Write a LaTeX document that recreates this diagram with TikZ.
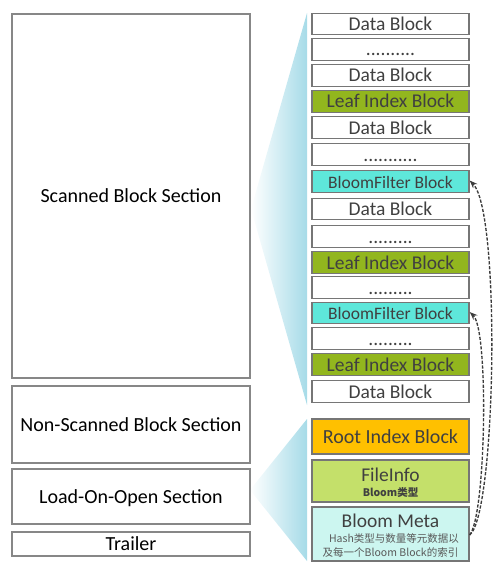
\documentclass[tikz,border=0pt]{standalone}
\usepackage{fontspec}
\setmainfont{Carlito}
\newfontfamily\cjk{Noto Sans CJK SC}
\usetikzlibrary{arrows.meta}
\definecolor{fanblue}{RGB}{166,219,232}
\definecolor{lgray}{RGB}{135,135,135}
\definecolor{rgray}{RGB}{118,118,118}
\definecolor{txtgray}{RGB}{64,64,64}
\definecolor{subgray}{RGB}{89,89,89}
\definecolor{leafgreen}{RGB}{146,182,30}
\definecolor{bfcyan}{RGB}{94,231,218}
\definecolor{rootorange}{RGB}{255,192,0}
\definecolor{fileinfogreen}{RGB}{196,224,106}
\definecolor{metacyan}{RGB}{204,246,240}
\definecolor{arrowgray}{RGB}{60,60,60}
\begin{document}
\begin{tikzpicture}[x=1pt,y=-1pt,
  lbox/.style={draw=lgray,line width=1.1pt,fill=white,inner sep=0pt,
    minimum width=238pt,text height=13.4pt,text depth=0pt,
    font=\fontsize{20}{24}\selectfont},
  rbox/.style={draw=rgray,line width=1.3pt,fill=white,inner sep=0pt,
    minimum width=157pt,minimum height=21.5pt,text height=13pt,text depth=0pt,
    text=txtgray,font=\fontsize{19.5}{22}\selectfont},
  leafbox/.style={rbox,fill=leafgreen},
  bfbox/.style={rbox,fill=bfcyan,font=\fontsize{17.5}{20}\selectfont},
  bigbox/.style={draw=rgray,line width=1.3pt,inner sep=0pt,minimum width=157pt},
  maintext/.style={anchor=base,text=txtgray,inner sep=0pt,font=\fontsize{19.5}{22}\selectfont},
  subtext/.style={anchor=base,inner sep=0pt,font=\cjk\fontsize{10.5}{12}\selectfont},
  linkarrow/.style={draw=arrowgray,line width=1.35pt,dash pattern=on 3.2pt off 1.6pt,
    -{Stealth[length=8pt,width=6pt]}}
]
\useasboundingbox (0,0) rectangle (502,583);

% fans
\shade[left color=white,right color=fanblue] (251,209) -- (307,13) -- (307,405) -- cycle;
\shade[left color=white,right color=fanblue] (250,490) -- (307,419) -- (307,561) -- cycle;

% left column
\node[lbox,minimum height=364pt] (scanned) at (131,196) {Scanned Block Section};
\node[lbox,minimum height=77pt] (nonscanned) at (131,424.5) {Non-Scanned Block Section};
\node[lbox,minimum height=55pt] (loo) at (131,496.5) {Load-On-Open Section};
\node[lbox,minimum height=24pt] (trailer) at (131,544) {Trailer};

% right column: scanned blocks
\node[rbox] (d1) at (390.5,24) {Data Block};
\node[rbox] (dots1) at (390.5,49.5) {..........};
\node[rbox] (d2) at (390.5,75.5) {Data Block};
\node[leafbox] (leaf1) at (390.5,101.5) {Leaf Index Block};
\node[rbox] (d3) at (390.5,127.5) {Data Block};
\node[rbox] (dots2) at (390.5,154.5) {...........};
\node[bfbox] (bf1) at (390.5,181.5) {BloomFilter Block};
\node[rbox] (d4) at (390.5,209) {Data Block};
\node[rbox] (dots3) at (390.5,236.5) {.........};
\node[leafbox] (leaf2) at (390.5,262.5) {Leaf Index Block};
\node[rbox] (dots4) at (390.5,287.5) {.........};
\node[bfbox] (bf2) at (390.5,313) {BloomFilter Block};
\node[rbox] (dots5) at (390.5,338.5) {.........};
\node[leafbox] (leaf3) at (390.5,364.5) {Leaf Index Block};
\node[rbox] (d5) at (390.5,391.5) {Data Block};

% right column: load-on-open blocks
\node[rbox,fill=rootorange,minimum height=35pt,font=\fontsize{20}{22}\selectfont] (root) at (390.5,436.5) {Root Index Block};
\node[bigbox,fill=fileinfogreen,minimum height=42pt] (fileinfo) at (390.5,481) {};
\node[maintext] (fitext) at (390.5,481) {FileInfo};
\node[subtext,text=txtgray] (fisub) at (390.5,496) {\bfseries Bloom类型};
\node[bigbox,fill=metacyan,minimum height=54pt] (bmeta) at (390.5,534) {};
\node[maintext] (bmtext) at (390.5,527.7) {Bloom Meta};
\node[subtext,text=subgray] (bmsub1) at (394,542.7) {Hash类型与数量等元数据以};
\node[subtext,text=subgray] (bmsub2) at (390.5,556) {及每一个Bloom Block的索引};

% dashed links
\draw[linkarrow] ([yshift=-1pt]bmeta.east) .. controls (496,515) and (501,212) .. ([yshift=1pt]bf1.east);
\draw[linkarrow] ([yshift=-1pt]bmeta.east) .. controls (486,515) and (489,330) .. ([yshift=1pt]bf2.east);
\end{tikzpicture}
\end{document}
